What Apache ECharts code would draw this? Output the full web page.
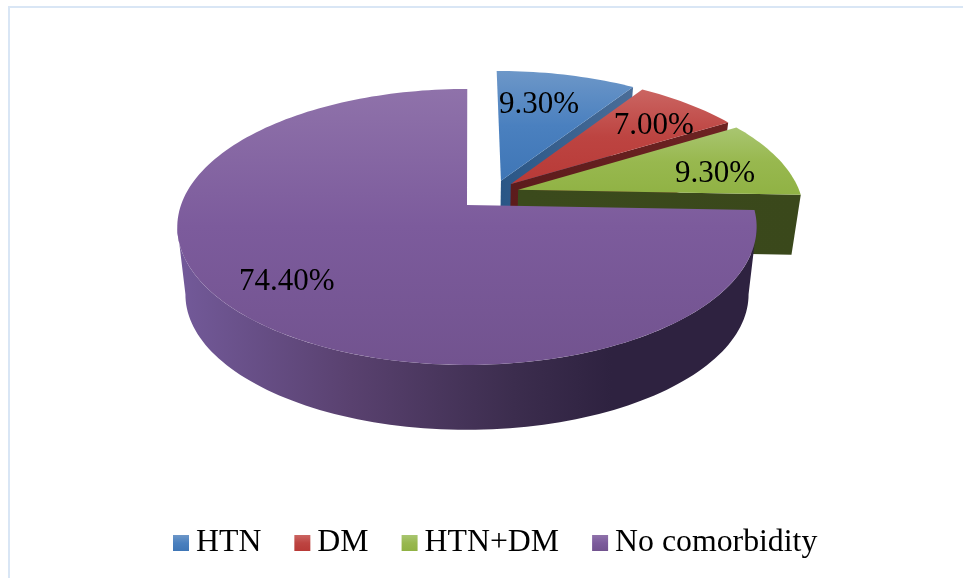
<!DOCTYPE html>
<html>
<head>
<meta charset="utf-8">
<style>html,body{margin:0;padding:0;background:#fff}#chart{width:963px;height:578px}</style>
<script src="https://cdn.jsdelivr.net/npm/echarts@6/dist/echarts.min.js"></script>
</head>
<body>
<div id="chart"></div>
<script>
// Comorbidity shares
const categories = ['HTN', 'DM', 'HTN+DM', 'No comorbidity'];
const shares = [9.3, 7.0, 9.3, 74.4];

// Face colours per slice: light to dark down the top face
const topStops = [
  ['#6d97c8', '#4a80bf', '#3f76b6'],
  ['#cb6562', '#bd4441', '#b83a37'],
  ['#a9c671', '#98b84f', '#90b244'],
  ['#8f72aa', '#7c5b9c', '#72538f']
];
const wallStops = [
  ['#2a5686', '#4a6d98'],
  ['#5c1c1c', '#6e2322'],
  ['#3b4a1c', '#3a481b'],
  ['#735a9a', '#59416f', '#3c2d4e', '#2e2240']
];

// Slice displacement on the pie plane and label anchors, both in disc units
const explode = [[0.115, 0.185], [0.15, 0.16], [0.175, 0.115], [-0.007, 0]];
const labelAnchors = [[0.278, 0.862], [0.715, 0.666], [0.895, 0.255], [-0.585, -0.512]];
const LABEL_SHIFT = 2;

// Perspective pie projection
const CX = 469, CY = 205, RX = 286, RY = 134.5, PERSPECTIVE = 0.159;
// Lower edge of the small slices' cut faces
const CUT_BASE = { drop: 60.5, sx: 0.972, sy: 0.972 };
// Lower edge of the large slice's rounded rim
const RIM_BASE = { drop: 68, sx: 0.972, sy: 0.9 };
// Rim angles where the outline of the disc turns away from the viewer
const RIM_START = 99, RIM_END = 261;
const FONT = '"Liberation Serif", "Times New Roman", serif';
const DEG = Math.PI / 180;

function project(u, v, base) {
  const w = 1 + PERSPECTIVE * v;
  if (!base) return [CX + RX * u / w, CY - RY * v / w];
  return [CX + RX * u / w * base.sx, CY - RY * v / w * base.sy + base.drop / w];
}

function arcPoints(off, from, to, base) {
  const n = Math.max(2, Math.ceil(Math.abs(to - from) / 1.5));
  const pts = [];
  for (let i = 0; i <= n; i++) {
    const t = (from + (to - from) * i / n) * DEG;
    pts.push(project(off[0] + Math.sin(t), off[1] + Math.cos(t), base));
  }
  return pts;
}

const total = shares.reduce((a, b) => a + b, 0);
const spans = [];
shares.reduce((start, s) => {
  const end = start + s / total * 360;
  spans.push([start, end]);
  return end;
}, 0);

function evenStops(colors) {
  return colors.map((color, i) => ({ offset: i / (colors.length - 1), color }));
}
function linear(x, y, x2, y2, colors) {
  return new echarts.graphic.LinearGradient(x, y, x2, y2, evenStops(colors), true);
}

function drawSlice(index) {
  const off = explode[index];
  const [a0, a1] = spans[index];
  const apexTop = project(off[0], off[1]);
  const apexBase = project(off[0], off[1], CUT_BASE);
  const children = [];

  // Cut face along the clockwise end of the slice
  const rimTop = arcPoints(off, a1, a1)[0];
  const rimBase = arcPoints(off, a1, a1, CUT_BASE)[0];
  if (index < 3) {
    children.push({
      type: 'polygon',
      shape: { points: [apexTop, rimTop, rimBase, apexBase] },
      style: { fill: linear(apexTop[0], 0, rimTop[0], 0, wallStops[index]) }
    });
  }

  // Outer rim, only the part turned toward the viewer
  const r0 = Math.max(a0, RIM_START), r1 = Math.min(a1, RIM_END);
  if (r1 > r0) {
    const top = arcPoints(off, r0, r1);
    const base = arcPoints(off, r0, r1, RIM_BASE);
    const left = Math.min(...top.map(p => p[0]));
    const right = Math.max(...top.map(p => p[0]));
    children.push({
      type: 'polygon',
      shape: { points: top.concat(base.reverse()) },
      style: {
        fill: new echarts.graphic.LinearGradient(left, 0, right, 0, [
          { offset: 0, color: wallStops[3][0] },
          { offset: 0.3, color: wallStops[3][1] },
          { offset: 0.58, color: wallStops[3][2] },
          { offset: 0.75, color: wallStops[3][3] },
          { offset: 1, color: wallStops[3][3] }
        ], true)
      }
    });
  }

  // Top face
  const rim = arcPoints(off, a0, a1);
  const ys = rim.concat([apexTop]).map(p => p[1]);
  const yMin = Math.min(...ys);
  const yMax = index === 3 ? project(0, -1)[1] : Math.max(...ys);
  children.push({
    type: 'polygon',
    shape: { points: [apexTop].concat(rim) },
    style: { fill: linear(0, yMin, 0, yMax, topStops[index]) }
  });

  // Percentage label
  const at = project(labelAnchors[index][0], labelAnchors[index][1]);
  children.push({
    type: 'text',
    z2: 100,
    style: {
      text: shares[index].toFixed(2) + '%',
      x: at[0], y: at[1] + LABEL_SHIFT,
      align: 'center', verticalAlign: 'middle',
      font: '31px ' + FONT,
      fill: '#000'
    }
  });
  return { type: 'group', children };
}

const chart = echarts.init(document.getElementById('chart'), null, { renderer: 'canvas' });
chart.setOption({
  animation: false,
  backgroundColor: '#ffffff',
  graphic: [{
    type: 'rect',
    silent: true,
    shape: { x: 9, y: 7, width: 1100, height: 700 },
    style: { fill: 'none', stroke: '#d9e6f5', lineWidth: 2 }
  }],
  legend: {
    data: categories,
    left: 168,
    top: 522,
    itemWidth: 16,
    itemHeight: 16,
    itemGap: 33,
    icon: 'rect',
    selectedMode: false,
    textStyle: {
      fontFamily: FONT,
      fontSize: 31.8,
      color: '#000',
      padding: [0, 0, 0, 2]
    }
  },
  series: categories.map((name, index) => ({
    type: 'custom',
    name,
    coordinateSystem: 'none',
    silent: true,
    clip: false,
    itemStyle: {
      color: {
        type: 'linear', x: 0, y: 0, x2: 0, y2: 1,
        colorStops: evenStops(topStops[index])
      }
    },
    data: [[shares[index]]],
    renderItem: () => drawSlice(index)
  }))
});
</script>
</body>
</html>
